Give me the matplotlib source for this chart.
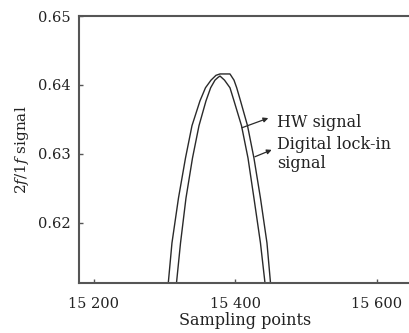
import matplotlib
matplotlib.use("Agg")
import matplotlib.pyplot as plt

# valores
hw_x = [15316.6, 15322.3, 15330.0, 15339.2, 15348.4, 15358.3, 15364.9, 15371.0,
        15375.3, 15378.1, 15384.5, 15392.2, 15397.9, 15408.5, 15417.7, 15426.1,
        15435.3, 15441.7]
hw_y = [0.6113, 0.6171, 0.6236, 0.6294, 0.6341, 0.6377, 0.6396, 0.6407,
        0.6411, 0.6413, 0.6407, 0.6396, 0.6377, 0.6341, 0.6294, 0.6236,
        0.6171, 0.6113]

lockin_x = [15305.0, 15310.2, 15319.4, 15329.3, 15338.5, 15349.8, 15357.6, 15365.4,
            15372.4, 15378.1, 15392.2, 15397.9, 15401.7, 15407.1, 15417.0, 15426.1,
            15435.3, 15444.5, 15449.5]
lockin_y = [0.6113, 0.6171, 0.6236, 0.6294, 0.6341, 0.6377, 0.6396, 0.6407,
            0.6414, 0.6416, 0.6416, 0.6407, 0.6396, 0.6377, 0.6341, 0.6294,
            0.6236, 0.6171, 0.6113]

x_ticks = [15200, 15400, 15600]
x_labels = ["15 200", "15 400", "15 600"]
y_ticks = [0.62, 0.63, 0.64, 0.65]

plt.rcParams['font.family'] = ['DejaVu Serif']
plt.rcParams['mathtext.fontset'] = 'dejavuserif'

fig = plt.figure(figsize=(4.09, 3.33), dpi=100)
ax = fig.add_axes([79 / 409, 50 / 333, (412 - 79) / 409, 267 / 333])

col = '#2a2a2a'
ax.plot(hw_x, hw_y, color=col, lw=1.0)
ax.plot(lockin_x, lockin_y, color=col, lw=1.0)

ax.set_xlim(15178.8, 15649.5)
ax.set_ylim(0.6113, 0.65)
ax.set_xticks(x_ticks)
ax.set_xticklabels(x_labels)
ax.set_yticks(y_ticks)
ax.set_yticklabels(["%.2f" % v for v in y_ticks])
ax.tick_params(axis='both', direction='in', length=3, width=1, labelsize=10.5,
               colors='#555555', labelcolor='#222222')
ax.tick_params(axis='x', pad=10)
ax.tick_params(axis='y', pad=6)

for s in ['left', 'bottom', 'top']:
    ax.spines[s].set_linewidth(1.5)
    ax.spines[s].set_color('#555555')
ax.spines['right'].set_visible(False)

ax.set_xlabel('Sampling points', fontsize=11.5, color='#222222', labelpad=1)
ax.set_ylabel('2$f$/1$f$ signal', fontsize=11, color='#222222', labelpad=5)

# flechas y textos
ax.annotate('', xy=(15446.4, 0.6352), xytext=(15409.0, 0.6338),
            arrowprops=dict(arrowstyle='-|>', color=col, lw=0.9,
                            mutation_scale=7, shrinkA=0, shrinkB=0))
ax.annotate('', xy=(15451.2, 0.6306), xytext=(15427.5, 0.6296),
            arrowprops=dict(arrowstyle='-|>', color=col, lw=0.9,
                            mutation_scale=7, shrinkA=0, shrinkB=0))
ax.text(15458.7, 0.6345, 'HW signal', fontsize=11.5, color='#222222', va='center')
ax.text(15458.7, 0.6300, 'Digital lock-in\nsignal', fontsize=11.5,
        color='#222222', va='center', linespacing=1.15)

fig.savefig('out.png', dpi=100)
